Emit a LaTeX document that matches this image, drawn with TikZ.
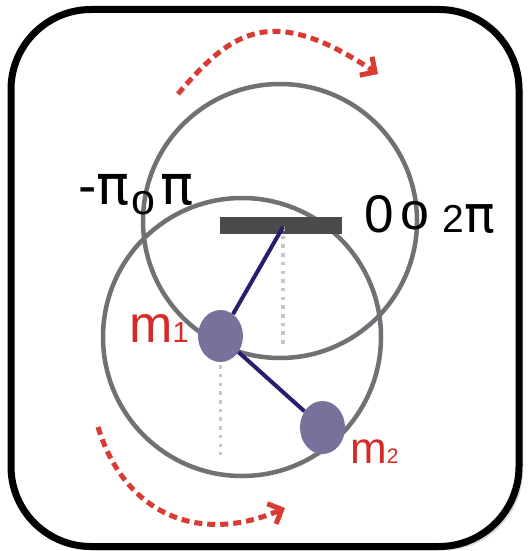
\documentclass[tikz,border=0pt]{standalone}
\usepackage{fontspec}
\setmainfont{Liberation Sans}
\newfontfamily\pifont{DejaVu Sans}
\usetikzlibrary{arrows.meta,shapes.geometric,shadows}

\definecolor{wheelgray}{HTML}{707174}
\definecolor{rodblue}{HTML}{2D1B6E}
\definecolor{massviolet}{HTML}{77729B}
\definecolor{plumbgray}{HTML}{C6C6C8}
\definecolor{supportgray}{HTML}{4B4B4D}
\definecolor{turnred}{HTML}{D93A32}
\definecolor{labelred}{HTML}{D52B27}

\begin{document}
\begin{tikzpicture}[x=1pt,y=-1pt,
    frame/.style={draw=black,line width=7pt,rounded corners=80pt,fill=white,
      drop shadow={shadow xshift=4pt,shadow yshift=-4pt,opacity=0.3}},
    wheel/.style={draw=wheelgray,line width=4.5pt},
    rod/.style={draw=rodblue,line width=4pt},
    mass/.style={ellipse,fill=massviolet,inner sep=0pt},
    plumb/.style={draw=plumbgray,line width=3.5pt,dash pattern=on 3.5pt off 5.2pt},
    turn/.style={draw=turnred,line width=5pt,dash pattern=on 8pt off 5pt,
      -{Straight Barb[length=11pt,width=22pt]}},
    lbl/.style={inner sep=0pt}]
    \useasboundingbox (0,0) rectangle (527,551);
    \draw[frame] (11,9.5) rectangle (519,546.5);
    \draw[turn] (178,94) .. controls (233,29) and (273,4) .. (378,74);
    \draw[turn] (98,427) .. controls (125,515) and (200,545) .. (285,508);
    \draw[wheel] (280,221) circle[radius=137];
    \draw[wheel] (242,337) circle[radius=139];
    \node[fill=supportgray,minimum width=122,minimum height=17,inner sep=0pt] (support) at (281,225.5) {};
    \coordinate (pivot) at (283,227);
    \node[mass,minimum width=45,minimum height=52] (m1) at (220.5,336) {};
    \node[mass,minimum width=45,minimum height=53] (m2) at (322.5,427.5) {};
    \draw[plumb] (pivot) -- ++(0,118);
    \draw[plumb] (m1.south) ++(0,3) -- ++(0,90);
    \draw[rod] (pivot) -- (m1);
    \draw[rod] (m1) -- (m2);
    \node[lbl,font=\fontsize{55}{55}\selectfont] (minuspi) at (104,190) {-{\pifont π}};
    \node[lbl,font=\fontsize{43}{43}\selectfont] (leftmark) at (143.5,203.5) {o};
    \node[lbl,font=\pifont\fontsize{55}{55}\selectfont] (pi) at (177.5,190) {π};
    \node[lbl,font=\fontsize{53}{53}\selectfont] (zero) at (379,214) {0};
    \node[lbl,font=\fontsize{52}{52}\selectfont] (rightmark) at (415,216) {o};
    \node[lbl,font=\fontsize{39}{39}\selectfont] (twopi) at (469,219) {2{\pifont\fontsize{51}{51}\selectfont π}};
    \node[lbl,anchor=base west,text=labelred,font=\fontsize{52}{52}\selectfont] (m1lbl) at (129,342) {m{\fontsize{29}{29}\selectfont 1}};
    \node[lbl,anchor=base west,text=labelred,font=\fontsize{44}{44}\selectfont] (m2lbl) at (350,463) {m{\fontsize{21}{21}\selectfont 2}};
\end{tikzpicture}
\end{document}
